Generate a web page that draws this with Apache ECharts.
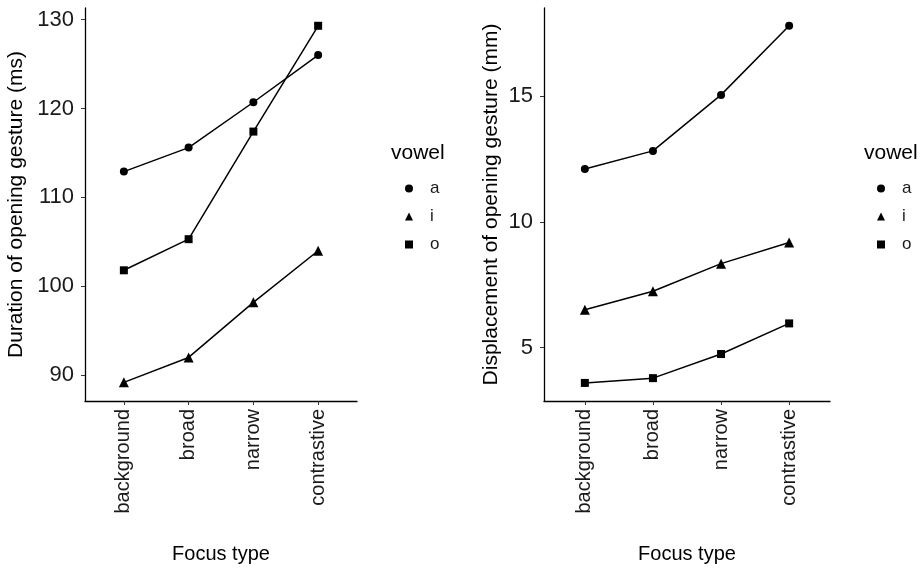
<!DOCTYPE html>
<html>
<head>
<meta charset="utf-8">
<script src="https://cdn.jsdelivr.net/npm/echarts@6/dist/echarts.min.js"></script>
<style>
  html, body { margin: 0; padding: 0; background: #fff; }
  #chart { width: 922px; height: 569px; }
</style>
</head>
<body>
<div id="chart"></div>
<script>
// focus types on the x axis
const focusTypes = ["background", "broad", "narrow", "contrastive"];

// duration of opening gesture (ms), per vowel
const durA = [112.9, 115.6, 120.7, 126.0];
const durI = [89.2, 92.0, 98.2, 104.0];
const durO = [101.8, 105.3, 117.4, 129.3];

// displacement of opening gesture (mm), per vowel
const dispA = [12.11, 12.83, 15.06, 17.81];
const dispI = [6.5, 7.24, 8.34, 9.18];
const dispO = [3.59, 3.78, 4.74, 5.96];

const durTicks = [90, 100, 110, 120, 130];
const dispTicks = [5, 10, 15];
const xTicks = [1, 2, 3, 4];

const font = "'Liberation Sans', Arial, Helvetica, sans-serif";

const chart = echarts.init(document.getElementById("chart"));

function pts(vals) {
  return vals.map((v, i) => [i + 1, v]);
}

function xAxisCfg(idx) {
  return {
    type: "value",
    gridIndex: idx,
    min: 0.4,
    max: 4.6,
    name: "Focus type",
    nameLocation: "middle",
    nameGap: 143,
    nameTextStyle: { fontFamily: font, fontSize: 20, color: "#000" },
    splitLine: { show: false },
    axisLine: { lineStyle: { color: "#000", width: 1.3 } },
    axisTick: { length: 4, customValues: xTicks, lineStyle: { color: "#333" } },
    axisLabel: {
      customValues: xTicks,
      rotate: 90,
      margin: 8,
      fontFamily: font,
      fontSize: 20,
      color: "#1a1a1a",
      formatter: v => focusTypes[Math.round(v) - 1] || ""
    }
  };
}

function yAxisCfg(idx, name, min, max, ticks, gap) {
  return {
    type: "value",
    gridIndex: idx,
    min: min,
    max: max,
    name: name,
    nameLocation: "middle",
    nameGap: gap,
    nameTextStyle: { fontFamily: font, fontSize: 21, color: "#000" },
    splitLine: { show: false },
    axisLine: { show: true, lineStyle: { color: "#000", width: 1.3 } },
    axisTick: { show: true, length: 4, customValues: ticks, lineStyle: { color: "#333" } },
    axisLabel: {
      customValues: ticks,
      margin: 11,
      fontFamily: font,
      fontSize: 22,
      color: "#1a1a1a"
    }
  };
}

function line(name, idx, data, symbol, size) {
  return {
    name: name,
    type: "line",
    xAxisIndex: idx,
    yAxisIndex: idx,
    data: pts(data),
    symbol: symbol,
    symbolSize: size,
    showAllSymbol: true,
    lineStyle: { color: "#000", width: 1.5 },
    itemStyle: { color: "#000" },
    emphasis: { disabled: true },
    animation: false
  };
}

function legendCfg(left) {
  return {
    orient: "vertical",
    left: left,
    top: 180,
    padding: 0,
    itemWidth: 8,
    itemHeight: 8,
    itemGap: 11,
    selectedMode: false,
    textStyle: { fontFamily: font, fontSize: 17, color: "#1a1a1a", padding: [0, 0, 0, 12] },
    data: [
      { name: "a", icon: "circle" },
      { name: "i", icon: "triangle" },
      { name: "o", icon: "rect" }
    ]
  };
}

chart.setOption({
  backgroundColor: "#fff",
  animation: false,
  title: [
    { text: "vowel", left: 391, top: 143, padding: 0, textStyle: { fontFamily: font, fontSize: 21, fontWeight: "normal", color: "#000" } },
    { text: "vowel", left: 864, top: 143, padding: 0, textStyle: { fontFamily: font, fontSize: 21, fontWeight: "normal", color: "#000" } }
  ],
  legend: [legendCfg(405), legendCfg(877)],
  grid: [
    { left: 85, top: 8, width: 272, height: 397 },
    { left: 544, top: 8, width: 286, height: 397 }
  ],
  xAxis: [xAxisCfg(0), xAxisCfg(1)],
  yAxis: [
    yAxisCfg(0, "Duration of opening gesture (ms)", 87.1, 131.3, durTicks, 58),
    yAxisCfg(1, "Displacement of opening gesture (mm)", 2.87, 18.52, dispTicks, 42)
  ],
  series: [
    line("a", 0, durA, "circle", 8),
    line("i", 0, durI, "triangle", 10),
    line("o", 0, durO, "rect", 8),
    line("a", 1, dispA, "circle", 8),
    line("i", 1, dispI, "triangle", 10),
    line("o", 1, dispO, "rect", 8)
  ]
});
</script>
</body>
</html>
